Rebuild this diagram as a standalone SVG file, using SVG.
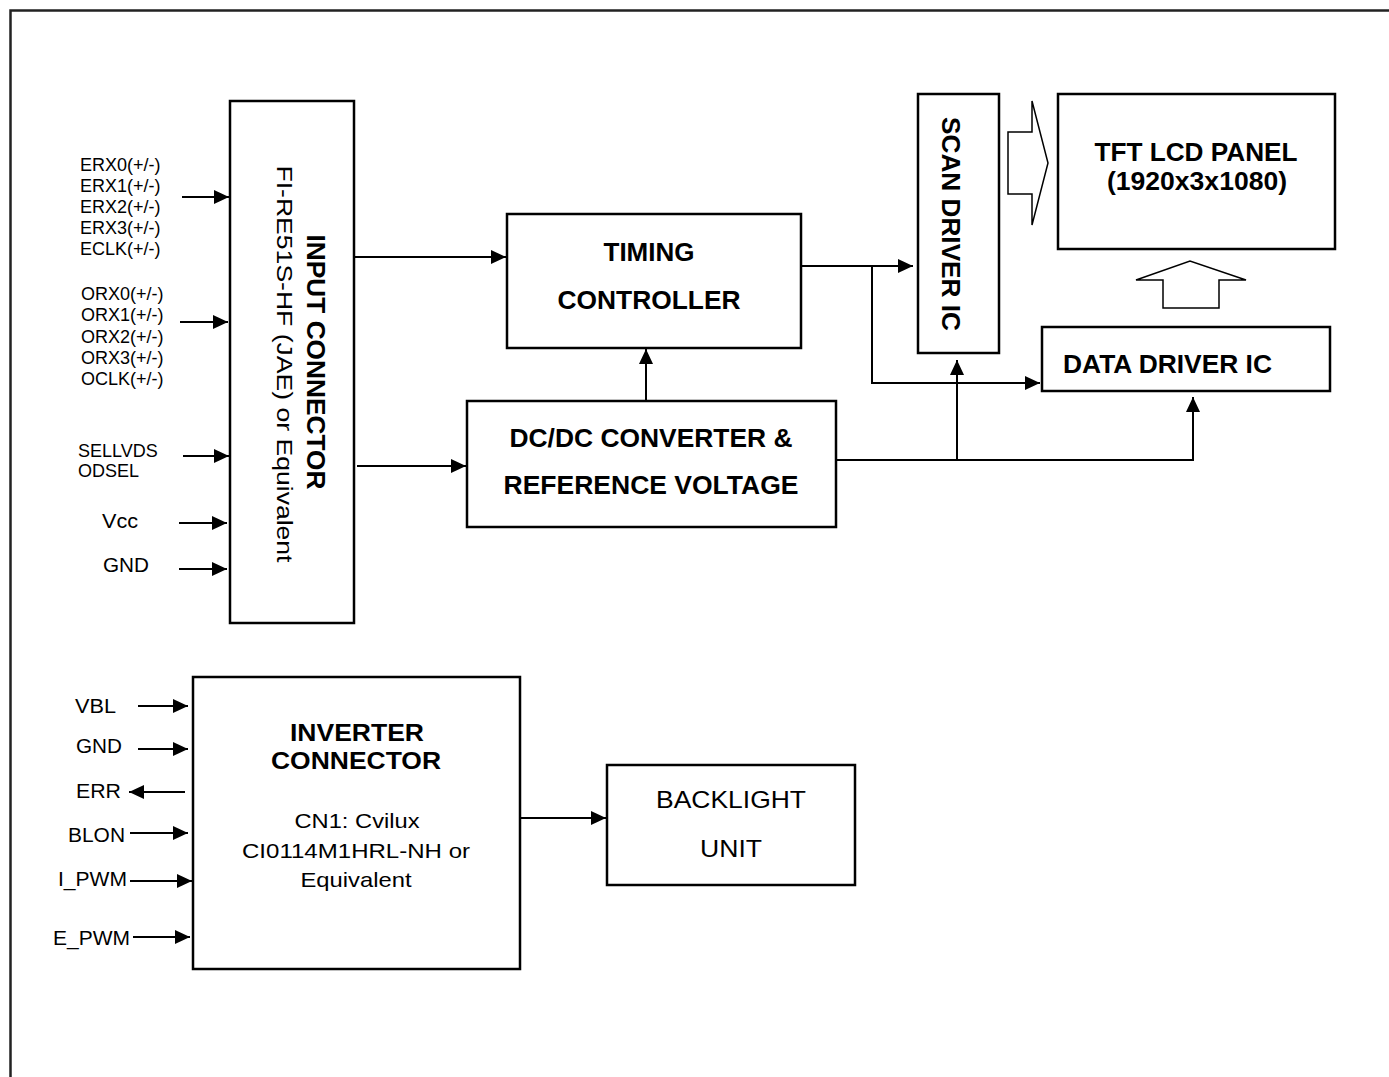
<svg xmlns="http://www.w3.org/2000/svg" width="1389" height="1077" viewBox="0 0 1389 1077">
<style>
.box{fill:#fff;stroke:#000;stroke-width:2.5}
.b{font-family:"Liberation Sans",Arial,sans-serif;font-weight:bold;fill:#000}
.r{font-family:"Liberation Sans",Arial,sans-serif;fill:#000}
.c{text-anchor:middle}
.ln{fill:none;stroke:#000;stroke-width:2}
.hol{fill:#fff;stroke:#000;stroke-width:1.5}
.lbl{font-family:"Liberation Sans",Arial,sans-serif;font-size:18px;fill:#000}
.lbl2{font-family:"Liberation Sans",Arial,sans-serif;font-size:20px;fill:#000}
</style>
<defs>
<marker id="ah" markerUnits="userSpaceOnUse" markerWidth="15" markerHeight="14" refX="15" refY="7" orient="auto">
<path d="M0,0 L15,7 L0,14 z" fill="#000"/>
</marker>
</defs>
<rect width="1389" height="1077" fill="#fff"/>
<g id="frame">
<path d="M10.5,1077 V10.5 H1389" fill="none" stroke="#222" stroke-width="2.5"/>
</g>

<g id="input-connector">
<rect class="box" x="230" y="101" width="124" height="522"/>
<text class="b c" font-size="26" textLength="255" lengthAdjust="spacingAndGlyphs" transform="translate(307,362) rotate(90)">INPUT CONNECTOR</text>
<text class="r c" font-size="22" textLength="397" lengthAdjust="spacingAndGlyphs" transform="translate(277,364) rotate(90)">FI-RE51S-HF (JAE) or Equivalent</text>
</g>

<g id="input-labels">
<text class="lbl" x="80" y="171">ERX0(+/-)</text>
<text class="lbl" x="80" y="192">ERX1(+/-)</text>
<text class="lbl" x="80" y="213">ERX2(+/-)</text>
<text class="lbl" x="80" y="234">ERX3(+/-)</text>
<text class="lbl" x="80" y="255">ECLK(+/-)</text>
<text class="lbl" x="81" y="300">ORX0(+/-)</text>
<text class="lbl" x="81" y="321">ORX1(+/-)</text>
<text class="lbl" x="81" y="343">ORX2(+/-)</text>
<text class="lbl" x="81" y="364">ORX3(+/-)</text>
<text class="lbl" x="81" y="385">OCLK(+/-)</text>
<text class="lbl" x="78" y="457">SELLVDS</text>
<text class="lbl" x="78" y="477">ODSEL</text>
<text class="lbl2" x="102" y="528" textLength="36" lengthAdjust="spacingAndGlyphs">Vcc</text>
<text class="lbl2" x="103" y="572" textLength="46" lengthAdjust="spacingAndGlyphs">GND</text>
</g>

<g id="timing-controller">
<rect class="box" x="507" y="214" width="294" height="134"/>
<text class="b c" font-size="26" x="649" y="261">TIMING</text>
<text class="b c" font-size="26" x="649" y="309" textLength="183" lengthAdjust="spacingAndGlyphs">CONTROLLER</text>
</g>

<g id="dcdc-converter">
<rect class="box" x="467" y="401" width="369" height="126"/>
<text class="b c" font-size="26" x="651" y="447" textLength="283" lengthAdjust="spacingAndGlyphs">DC/DC CONVERTER &amp;</text>
<text class="b c" font-size="26" x="651" y="494" textLength="295" lengthAdjust="spacingAndGlyphs">REFERENCE VOLTAGE</text>
</g>

<g id="scan-driver">
<rect class="box" x="918" y="94" width="81" height="259"/>
<text class="b c" font-size="26" textLength="214" lengthAdjust="spacingAndGlyphs" transform="translate(942,224) rotate(90)">SCAN DRIVER IC</text>
</g>

<g id="tft-panel">
<rect class="box" x="1058" y="94" width="277" height="155"/>
<text class="b c" font-size="26" x="1196" y="161" textLength="203" lengthAdjust="spacingAndGlyphs">TFT LCD PANEL</text>
<text class="b c" font-size="26" x="1197" y="190" textLength="180" lengthAdjust="spacingAndGlyphs">(1920x3x1080)</text>
</g>

<g id="data-driver">
<rect class="box" x="1042" y="327" width="288" height="64"/>
<text class="b" font-size="26" x="1063" y="373" textLength="209" lengthAdjust="spacingAndGlyphs">DATA DRIVER IC</text>
</g>

<g id="inverter-connector">
<rect class="box" x="193" y="677" width="327" height="292"/>
<text class="b c" font-size="24" x="357" y="741" textLength="134" lengthAdjust="spacingAndGlyphs">INVERTER</text>
<text class="b c" font-size="24" x="356" y="769" textLength="170" lengthAdjust="spacingAndGlyphs">CONNECTOR</text>
<text class="r c" font-size="21" x="357" y="828" textLength="125" lengthAdjust="spacingAndGlyphs">CN1: Cvilux</text>
<text class="r c" font-size="21" x="356" y="858" textLength="228" lengthAdjust="spacingAndGlyphs">CI0114M1HRL-NH or</text>
<text class="r c" font-size="21" x="356" y="887" textLength="111" lengthAdjust="spacingAndGlyphs">Equivalent</text>
</g>

<g id="inverter-labels">
<text class="lbl2" x="75" y="713" textLength="41" lengthAdjust="spacingAndGlyphs">VBL</text>
<text class="lbl2" x="76" y="753" textLength="46" lengthAdjust="spacingAndGlyphs">GND</text>
<text class="lbl2" x="76" y="798" textLength="45" lengthAdjust="spacingAndGlyphs">ERR</text>
<text class="lbl2" x="68" y="842" textLength="57" lengthAdjust="spacingAndGlyphs">BLON</text>
<text class="lbl2" x="58" y="886" textLength="69" lengthAdjust="spacingAndGlyphs">I_PWM</text>
<text class="lbl2" x="53" y="945" textLength="77" lengthAdjust="spacingAndGlyphs">E_PWM</text>
</g>

<g id="backlight-unit">
<rect class="box" x="607" y="765" width="248" height="120"/>
<text class="r c" font-size="24" x="731" y="808" textLength="150" lengthAdjust="spacingAndGlyphs">BACKLIGHT</text>
<text class="r c" font-size="24" x="731" y="857" textLength="62" lengthAdjust="spacingAndGlyphs">UNIT</text>
</g>

<g id="connectors">
<!-- input signals -->
<line class="ln" x1="182" y1="197" x2="229" y2="197" marker-end="url(#ah)"/>
<line class="ln" x1="180" y1="322" x2="228" y2="322" marker-end="url(#ah)"/>
<line class="ln" x1="183" y1="456" x2="229" y2="456" marker-end="url(#ah)"/>
<line class="ln" x1="179" y1="523" x2="227" y2="523" marker-end="url(#ah)"/>
<line class="ln" x1="179" y1="569" x2="227" y2="569" marker-end="url(#ah)"/>
<!-- input connector to timing / dcdc -->
<line class="ln" x1="355" y1="257" x2="506" y2="257" marker-end="url(#ah)"/>
<line class="ln" x1="357" y1="466" x2="466" y2="466" marker-end="url(#ah)"/>
<!-- dcdc to timing -->
<line class="ln" x1="646" y1="401" x2="646" y2="349" marker-end="url(#ah)"/>
<!-- timing to scan / data -->
<line class="ln" x1="801" y1="266" x2="913" y2="266" marker-end="url(#ah)"/>
<polyline class="ln" points="872,266 872,383 1040,383" marker-end="url(#ah)"/>
<!-- dcdc to scan / data -->
<polyline class="ln" points="836,460 1193,460 1193,397" marker-end="url(#ah)"/>
<line class="ln" x1="957" y1="460" x2="957" y2="360" marker-end="url(#ah)"/>
<!-- hollow arrows -->
<polygon class="hol" points="1008,132 1032,132 1032,101 1048,163 1032,225 1032,194 1008,194"/>
<polygon class="hol" points="1163,308 1163,280 1136,280 1190,261 1246,280 1219,280 1219,308"/>
<!-- inverter signals -->
<line class="ln" x1="138" y1="706" x2="188" y2="706" marker-end="url(#ah)"/>
<line class="ln" x1="138" y1="749" x2="188" y2="749" marker-end="url(#ah)"/>
<line class="ln" x1="185" y1="792" x2="129" y2="792" marker-end="url(#ah)"/>
<line class="ln" x1="130" y1="833" x2="188" y2="833" marker-end="url(#ah)"/>
<line class="ln" x1="130" y1="881" x2="192" y2="881" marker-end="url(#ah)"/>
<line class="ln" x1="133" y1="937" x2="190" y2="937" marker-end="url(#ah)"/>
<!-- inverter to backlight -->
<line class="ln" x1="520" y1="818" x2="606" y2="818" marker-end="url(#ah)"/>
</g>
</svg>
